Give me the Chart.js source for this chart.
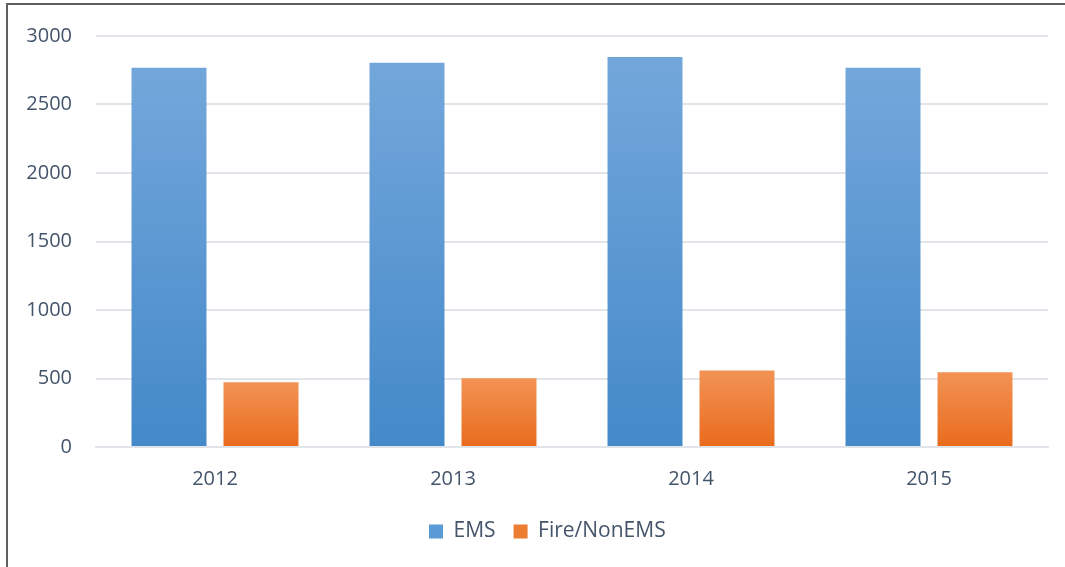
<!DOCTYPE html>
<html>
<head>
<meta charset="utf-8">
<script src="https://cdn.jsdelivr.net/npm/chart.js@4/dist/chart.umd.min.js"></script>
<style>
  html, body { margin: 0; padding: 0; background: #fff; overflow: hidden; }
  #wrap { position: absolute; left: 0; top: 0; width: 1065px; height: 567px; }
  #frame { position: absolute; left: 6px; top: 3px; width: 1070px; height: 580px;
           border-left: 2px solid #5f5f5f; border-top: 2px solid #5f5f5f; pointer-events: none; }
</style>
</head>
<body>
<div id="wrap"><canvas id="chart"></canvas></div>
<div id="frame"></div>
<script>
const years = ["2012", "2013", "2014", "2015"];
const emsCalls = [2768, 2804, 2847, 2768];
const fireCalls = [472, 501, 559, 545];
const yTicks = [0, 500, 1000, 1500, 2000, 2500, 3000];

const textColor = "#44546a";
const gridColor = "#e1e4e8";
const font = { family: "'Open Sans', sans-serif", size: 20 };

// vertical gradient from each bar's top down to the axis
function barGradient(light, dark) {
  return function (ctx) {
    const chart = ctx.chart;
    const y = chart.scales && chart.scales.y;
    if (!y || ctx.type !== "data" || !chart.chartArea) return dark;
    const top = y.getPixelForValue(ctx.raw);
    const base = y.getPixelForValue(0);
    if (!isFinite(top) || !isFinite(base) || top === base) return dark;
    const g = chart.ctx.createLinearGradient(0, top, 0, base);
    g.addColorStop(0, light);
    g.addColorStop(1, dark);
    return g;
  };
}

// nudge the legend so it sits where the original one does
const legendShift = {
  id: "legendShift",
  afterLayout(chart) {
    const lg = chart.legend;
    if (!lg) return;
    const dx = 411 - lg.left;
    lg.left += dx;
    lg.right += dx;
  },
};

new Chart(document.getElementById("chart"), {
  type: "bar",
  data: {
    labels: years,
    datasets: [
      {
        label: "EMS",
        data: emsCalls,
        backgroundColor: barGradient("#73a7db", "#4489c9"),
      },
      {
        label: "Fire/NonEMS",
        data: fireCalls,
        backgroundColor: barGradient("#f29355", "#e96b1c"),
      },
    ],
  },
  plugins: [legendShift],
  options: {
    responsive: true,
    maintainAspectRatio: false,
    animation: false,
    layout: { padding: { top: 30, right: 17, bottom: 15, left: 0 } },
    datasets: { bar: { categoryPercentage: 0.773, barPercentage: 0.815 } },
    plugins: {
      tooltip: { enabled: false },
      legend: {
        position: "bottom",
        align: "start",
        labels: {
          color: textColor,
          font: { family: "'Open Sans', sans-serif", size: 21 },
          boxWidth: 14,
          boxHeight: 14,
          padding: 18,
          generateLabels(chart) {
            return chart.data.datasets.map((ds, i) => ({
              text: ds.label,
              fillStyle: i === 0 ? "#5b9bd5" : "#ed7d31",
              strokeStyle: "rgba(0,0,0,0)",
              lineWidth: 0,
              fontColor: textColor,
              datasetIndex: i,
            }));
          },
        },
      },
    },
    scales: {
      x: {
        grid: { display: false, drawTicks: false },
        border: { display: true, color: gridColor, width: 2 },
        ticks: { color: textColor, font: font, padding: 20 },
        afterFit(scale) { scale.height = 56; },
      },
      y: {
        min: 0,
        max: 3000,
        grid: { color: gridColor, lineWidth: 2, drawTicks: false },
        border: { display: false },
        afterBuildTicks(scale) { scale.ticks = yTicks.map(v => ({ value: v })); },
        ticks: {
          color: textColor,
          font: font,
          padding: 24,
          callback: (v) => String(v),
        },
        afterFit(scale) { scale.width = 96; },
      },
    },
  },
});
</script>
</body>
</html>
